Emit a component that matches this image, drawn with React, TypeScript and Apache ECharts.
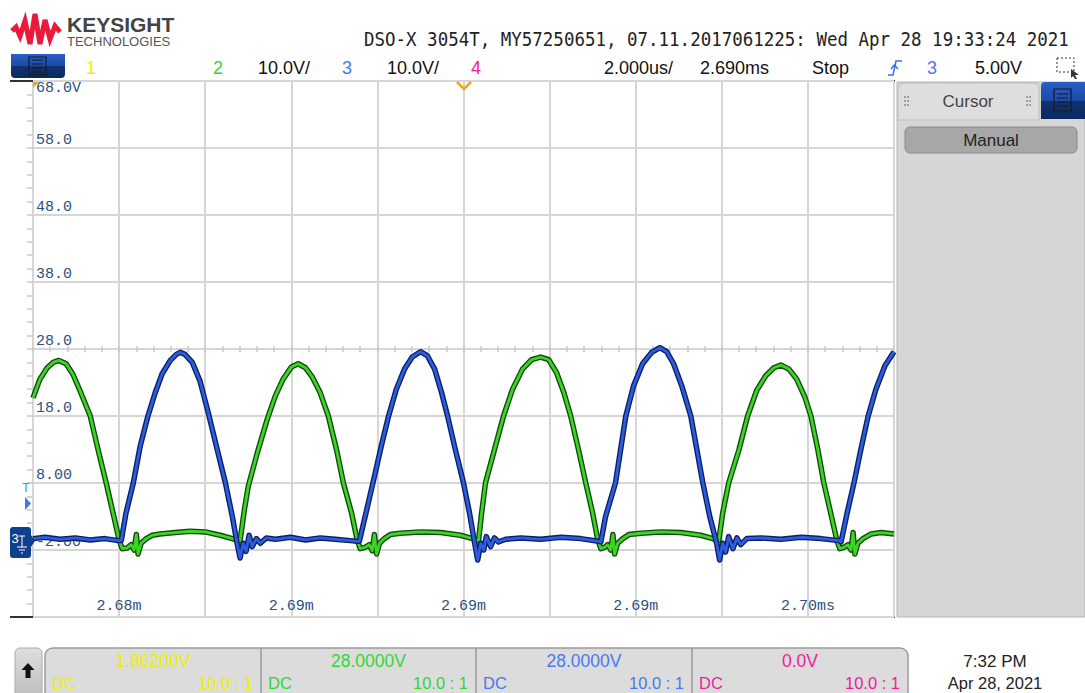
import React, { useEffect, useRef } from 'react';
import * as echarts from 'echarts';

// time axis: microseconds after 2.680 ms (2.000 us/div), volts: 10 V/div
const X_MIN = 0;
const X_MAX = 20;
const X_DIV = 2;
const Y_MIN = -12;
const Y_MAX = 68;
const Y_DIV = 10;

const xTickValues = [2, 6, 10, 14, 18];
const xTickLabels = ['2.68m', '2.69m', '2.69m', '2.69m', '2.70ms'];
const yTickValues = [68, 58, 48, 38, 28, 18, 8, -2];
const yTickLabels = ['68.0V', '58.0', '48.0', '38.0', '28.0', '18.0', '8.00', '-2.00'];

// channel 2 (green) [µs, V]
const ch2Trace: number[][] = [
  [0, 20.7], [0.16, 23.5], [0.33, 25.2], [0.47, 26.0], [0.6, 26.3], [0.77, 25.8], [0.93, 24.2], [1.09, 21.8], [1.33, 18.0], [1.51, 13.0], [1.7, 8.0], [1.86, 3.5], [2.0, -0.5],
  [2.07, -1.8], [2.19, -1.7], [2.28, -1.2], [2.35, -2.0], [2.4, 0.3], [2.44, -2.6], [2.51, -1.0], [2.63, -0.3], [2.77, 0.2], [2.95, 0.4], [3.3, 0.6], [3.65, 0.8], [4.0, 0.7], [4.35, 0.2], [4.63, -0.3], [4.77, -0.6],
  [4.81, -0.6], [4.91, 4.0], [5.0, 7.5], [5.21, 12.5], [5.44, 17.5], [5.63, 21.0], [5.81, 23.5], [6.0, 25.3], [6.16, 25.8], [6.33, 25.2], [6.49, 23.8], [6.67, 21.5], [6.86, 18.0], [7.05, 13.0], [7.21, 8.0], [7.4, 3.5], [7.53, -0.5],
  [7.6, -1.8], [7.72, -1.6], [7.81, -1.2], [7.88, -2.1], [7.93, 0.3], [7.98, -2.6], [8.05, -1.0], [8.16, -0.3], [8.3, 0.3], [8.53, 0.5], [9.0, 0.7], [9.47, 0.6], [9.93, 0.2], [10.21, -0.3], [10.33, -0.6],
  [10.35, -0.6], [10.42, 3.5], [10.51, 8.0], [10.72, 13.0], [10.93, 18.0], [11.14, 22.0], [11.37, 25.0], [11.58, 26.4], [11.79, 26.8], [11.98, 26.4], [12.16, 24.5], [12.33, 21.5], [12.49, 18.0], [12.67, 13.0], [12.84, 8.0], [13.0, 3.5], [13.12, -0.5],
  [13.19, -1.8], [13.28, -1.6], [13.35, -1.2], [13.42, -2.0], [13.47, 0.3], [13.51, -2.6], [13.58, -1.0], [13.7, -0.3], [13.84, 0.3], [14.12, 0.5], [14.58, 0.7], [15.05, 0.6], [15.51, 0.2], [15.79, -0.3], [15.91, -0.6],
  [15.93, -0.6], [16.02, 3.5], [16.16, 8.0], [16.4, 13.0], [16.6, 18.0], [16.81, 21.8], [17.02, 24.0], [17.21, 25.2], [17.37, 25.6], [17.56, 25.0], [17.74, 23.5], [17.93, 20.8], [18.07, 18.0], [18.23, 13.0], [18.37, 8.0], [18.53, 3.5], [18.67, -0.5],
  [18.74, -1.8], [18.84, -1.6], [18.93, -1.2], [19.0, -2.0], [19.05, 0.6], [19.09, -2.6], [19.16, -1.0], [19.28, -0.3], [19.47, 0.4], [19.7, 0.6], [20.0, 0.4],
];

// channel 3 (blue) [µs, V]
const ch3Trace: number[][] = [
  [0, -0.3], [0.28, -0.1], [0.63, -0.4], [0.98, -0.2], [1.33, -0.5], [1.67, -0.3], [1.98, -0.6],
  [2.05, -0.6], [2.16, 3.5], [2.33, 8.0], [2.49, 13.5], [2.67, 18.0], [2.84, 21.5], [3.0, 24.3], [3.19, 26.3], [3.33, 27.2], [3.42, 27.5], [3.53, 27.2], [3.7, 26.0], [3.88, 23.2], [4.07, 18.5], [4.26, 13.5], [4.47, 8.0], [4.63, 3.0], [4.74, -1.0],
  [4.81, -3.2], [4.88, -1.0], [4.95, -2.2], [5.02, 0.2], [5.09, -1.5], [5.19, -0.3], [5.28, -1.0], [5.42, -0.2], [5.63, -0.4], [5.98, -0.1], [6.33, -0.5], [6.67, -0.2], [7.02, -0.4], [7.37, -0.6], [7.53, -0.7],
  [7.58, -0.7], [7.77, 4.5], [7.95, 9.5], [8.09, 13.5], [8.26, 18.0], [8.44, 22.0], [8.63, 25.0], [8.81, 26.8], [9.0, 27.6], [9.16, 27.0], [9.33, 25.0], [9.49, 21.5], [9.63, 18.0], [9.81, 13.0], [10.0, 8.0], [10.14, 3.5], [10.26, -1.0],
  [10.33, -3.5], [10.4, -1.0], [10.47, -2.0], [10.53, 0.0], [10.63, -1.5], [10.72, -0.2], [10.81, -0.8], [10.98, -0.4], [11.33, -0.2], [11.79, -0.4], [12.26, -0.1], [12.72, -0.3], [13.14, -0.7],
  [13.19, -0.8], [13.3, 3.0], [13.53, 8.0], [13.65, 13.0], [13.77, 18.0], [13.95, 22.5], [14.16, 25.8], [14.37, 27.5], [14.56, 28.2], [14.72, 27.6], [14.88, 25.8], [15.07, 22.5], [15.28, 18.0], [15.42, 13.0], [15.56, 8.0], [15.72, 3.0], [15.88, -1.0],
  [15.95, -3.5], [16.02, -1.0], [16.09, -2.3], [16.16, 0.0], [16.26, -1.8], [16.35, -0.2], [16.44, -1.2], [16.58, -0.3], [16.91, -0.2], [17.37, -0.4], [17.84, -0.1], [18.3, -0.3], [18.72, -0.6],
  [18.77, -0.8], [18.91, 3.5], [19.07, 8.0], [19.23, 13.0], [19.4, 18.0], [19.58, 22.0], [19.79, 25.5], [20.0, 27.6],
];

const channelNames = ['1', '2', '3', '4'];
const channelColors = ['#eeee00', '#33d633', '#4a78ee', '#f0209c'];
const channelScales = ['', '10.0V/', '10.0V/', ''];
const channelOffsets = ['1.86200V', '28.0000V', '28.0000V', '0.0V'];
const channelCoupling = ['DC', 'DC', 'DC', 'DC'];
const channelProbe = ['10.0 : 1', '10.0 : 1', '10.0 : 1', '10.0 : 1'];

const headerTitle = 'DSO-X 3054T, MY57250651, 07.11.2017061225: Wed Apr 28 19:33:24 2021';
const timeScale = '2.000us/';
const timeDelay = '2.690ms';
const runState = 'Stop';
const trigSource = '3';
const trigLevel = '5.00V';
const clockTime = '7:32 PM';
const clockDate = 'Apr 28, 2021';

const SANS = '"Liberation Sans", Arial, sans-serif';
const MONO = '"Liberation Mono", "DejaVu Sans Mono", monospace';
const AXIS_BLUE = '#2c4f80';

function findLabel(values: number[], v: number) {
  return values.findIndex((t) => Math.abs(t - v) < 1e-6);
}

function txt(text: string, x: number, y: number, fill: string, fontSize: number, align = 'left', extra: any = {}) {
  return {
    type: 'text',
    x,
    y,
    z: 50,
    style: { text, fill, fontSize, fontFamily: SANS, align, verticalAlign: 'middle', ...extra },
  };
}

function buildOption() {
  const G = echarts.graphic;
  const blueGrad = () =>
    new G.LinearGradient(0, 0, 0, 1, [
      { offset: 0, color: '#2a5fc4' },
      { offset: 0.5, color: '#1c4aa8' },
      { offset: 0.5, color: '#0f3272' },
      { offset: 1, color: '#0b2960' },
    ]);
  const grayBtn = new G.LinearGradient(0, 0, 0, 1, [
    { offset: 0, color: '#dedede' },
    { offset: 1, color: '#bcbcbc' },
  ]);

  const elements: any[] = [];

  // Keysight logo
  elements.push({
    type: 'polyline',
    z: 50,
    shape: { points: [[12, 31], [16, 27], [20, 36], [25, 21], [30, 44], [35, 14], [40, 44], [45, 20], [50, 39], [55, 26], [60, 32]] },
    style: { stroke: '#ea1a3a', lineWidth: 5, fill: null, lineJoin: 'miter' },
  });
  elements.push(txt('KEYSIGHT', 67, 24, '#444444', 21, 'left', { fontWeight: 'bold' }));
  elements.push(txt('TECHNOLOGIES', 67, 41, '#555555', 13));

  // Title
  elements.push({
    type: 'text',
    x: 364,
    y: 39,
    scaleX: 0.92,
    z: 50,
    style: { text: headerTitle, fill: '#222', fontSize: 19, fontFamily: '"DejaVu Sans Mono", monospace', align: 'left', verticalAlign: 'middle' },
  });

  // Row 2: menu button
  elements.push({ type: 'rect', z: 50, shape: { x: 11, y: 54, width: 54, height: 24, r: [0, 0, 4, 4] }, style: { fill: blueGrad() } });
  elements.push({ type: 'rect', z: 51, shape: { x: 29, y: 57, width: 17, height: 18 }, style: { fill: null, stroke: '#1a1a1a', lineWidth: 1.2 } });
  [61, 65, 69, 73].forEach((yy) => {
    elements.push({ type: 'line', z: 51, shape: { x1: 32, y1: yy - 1, x2: 43, y2: yy - 1 }, style: { stroke: '#1a1a1a', lineWidth: 1 } });
  });

  const rowY = 68;
  const chanX = [91, 218, 347, 476];
  channelNames.forEach((n, i) => {
    elements.push(txt(n, chanX[i], rowY, channelColors[i], 18, 'center'));
    if (channelScales[i]) elements.push(txt(channelScales[i], chanX[i] + 40, rowY, '#111', 18));
  });
  elements.push(txt(timeScale, 604, rowY, '#111', 18));
  elements.push(txt(timeDelay, 700, rowY, '#111', 18));
  elements.push(txt(runState, 812, rowY, '#111', 18));
  elements.push({ type: 'polyline', z: 50, shape: { points: [[888, 75], [893, 75], [896, 61], [902, 61]] }, style: { stroke: '#3a6fe0', lineWidth: 1.5, fill: null } });
  elements.push({ type: 'polyline', z: 50, shape: { points: [[891, 69], [894.5, 65], [898, 69]] }, style: { stroke: '#3a6fe0', lineWidth: 1.5, fill: null } });
  elements.push(txt(trigSource, 932, rowY, '#4a78ee', 18, 'center'));
  elements.push(txt(trigLevel, 975, rowY, '#111', 18));
  elements.push({ type: 'rect', z: 50, shape: { x: 1057, y: 58, width: 17, height: 14 }, style: { fill: null, stroke: '#333', lineWidth: 1, lineDash: [2, 2] } });
  elements.push({ type: 'polygon', z: 50, shape: { points: [[1071, 69], [1079, 75], [1075, 75], [1077, 79], [1075, 79], [1073, 76], [1071, 78]] }, style: { fill: '#333' } });

  // Frame extensions on the left
  elements.push({ type: 'line', z: 50, shape: { x1: 10, y1: 81, x2: 33, y2: 81 }, style: { stroke: '#333', lineWidth: 2 } });
  elements.push({ type: 'line', z: 50, shape: { x1: 10, y1: 617, x2: 33, y2: 617 }, style: { stroke: '#333', lineWidth: 2 } });

  // Time reference markers
  elements.push({ type: 'polyline', z: 60, shape: { points: [[457, 82], [464, 89], [471, 82]] }, style: { stroke: '#f2a21c', lineWidth: 2.5, fill: null } });
  elements.push({ type: 'polygon', z: 60, shape: { points: [[33, 82], [39, 82], [33, 88]] }, style: { fill: '#f2a21c' } });

  // Trigger level marker
  elements.push({ type: 'text', x: 26, y: 488, z: 60, style: { text: 'T', fill: '#4a8ae6', fontSize: 12, fontFamily: SANS, align: 'center', verticalAlign: 'middle' } });
  elements.push({ type: 'polygon', z: 60, shape: { points: [[25, 497], [31, 503.5], [25, 510]] }, style: { fill: '#3c7de0' } });

  // Channel 3 ground marker
  elements.push({ type: 'rect', z: 60, shape: { x: 10, y: 527, width: 21, height: 31, r: 3 }, style: { fill: '#0f3f8f' } });
  elements.push({ type: 'polygon', z: 60, shape: { points: [[31, 535], [35, 541], [31, 547]] }, style: { fill: '#0f3f8f' } });
  elements.push({ type: 'text', x: 15, y: 538, z: 61, style: { text: '3', fill: '#ffffff', fontSize: 13, fontFamily: SANS, align: 'center', verticalAlign: 'middle' } });
  elements.push({ type: 'polyline', z: 61, shape: { points: [[19, 536], [25, 536]] }, style: { stroke: '#fff', lineWidth: 1 } });
  elements.push({ type: 'polyline', z: 61, shape: { points: [[22, 536], [22, 547]] }, style: { stroke: '#fff', lineWidth: 1 } });
  elements.push({ type: 'polyline', z: 61, shape: { points: [[17, 547], [27, 547]] }, style: { stroke: '#fff', lineWidth: 1 } });
  elements.push({ type: 'polyline', z: 61, shape: { points: [[19, 550], [25, 550]] }, style: { stroke: '#fff', lineWidth: 1 } });
  elements.push({ type: 'polyline', z: 61, shape: { points: [[21, 553], [23, 553]] }, style: { stroke: '#fff', lineWidth: 1 } });

  // Right panel
  elements.push({ type: 'rect', z: 40, shape: { x: 897, y: 82, width: 188, height: 535 }, style: { fill: '#d6d6d6', stroke: '#b5b5b5', lineWidth: 1 } });
  elements.push({ type: 'rect', z: 41, shape: { x: 898, y: 83, width: 141, height: 37, r: [6, 6, 0, 0] }, style: { fill: '#dedede', stroke: '#bdbdbd', lineWidth: 1 } });
  elements.push(txt('Cursor', 968, 101, '#444', 17, 'center'));
  [[905, 97], [908, 97], [905, 101], [908, 101], [905, 105], [908, 105], [1027, 97], [1030, 97], [1027, 101], [1030, 101], [1027, 105], [1030, 105]].forEach((p) => {
    elements.push({ type: 'circle', z: 51, shape: { cx: p[0], cy: p[1], r: 0.8 }, style: { fill: '#777' } });
  });
  elements.push({ type: 'rect', z: 42, shape: { x: 1041, y: 82, width: 44, height: 37, r: [4, 0, 0, 0] }, style: { fill: blueGrad() } });
  elements.push({ type: 'rect', z: 43, shape: { x: 1054, y: 89, width: 17, height: 22 }, style: { fill: null, stroke: '#1a1a1a', lineWidth: 1.2 } });
  [94, 98, 102, 106].forEach((yy) => {
    elements.push({ type: 'line', z: 43, shape: { x1: 1057, y1: yy, x2: 1068, y2: yy }, style: { stroke: '#1a1a1a', lineWidth: 1 } });
  });
  elements.push({ type: 'rect', z: 42, shape: { x: 905, y: 127, width: 172, height: 26, r: 5 }, style: { fill: '#a7a7a7', stroke: '#8a8a8a', lineWidth: 1 } });
  elements.push(txt('Manual', 991, 140, '#222', 17, 'center'));

  // Bottom bar
  elements.push({ type: 'rect', z: 40, shape: { x: 15, y: 648, width: 27, height: 52, r: 5 }, style: { fill: grayBtn, stroke: '#aaaaaa', lineWidth: 1 } });
  elements.push({ type: 'polygon', z: 41, shape: { points: [[28, 663], [21.5, 670], [25.5, 670], [25.5, 678], [30.5, 678], [30.5, 670], [34.5, 670]] }, style: { fill: '#111' } });
  elements.push({ type: 'rect', z: 40, shape: { x: 45, y: 648, width: 863, height: 60, r: [8, 8, 0, 0] }, style: { fill: '#dcdcdc', stroke: '#9a9a9a', lineWidth: 1.5 } });
  const secLeft = [45, 261, 476, 692];
  const secRight = [261, 476, 692, 908];
  channelNames.forEach((_, i) => {
    if (i > 0) elements.push({ type: 'line', z: 41, shape: { x1: secLeft[i], y1: 648, x2: secLeft[i], y2: 693 }, style: { stroke: '#9a9a9a', lineWidth: 1.5 } });
    const cx = (secLeft[i] + secRight[i]) / 2;
    elements.push(txt(channelOffsets[i], cx, 661, channelColors[i], 17.5, 'center'));
    elements.push(txt(channelCoupling[i], secLeft[i] + 7, 683, channelColors[i], 16.5));
    elements.push(txt(channelProbe[i], secRight[i] - 8, 683, channelColors[i], 16.5, 'right'));
  });
  elements.push(txt(clockTime, 995, 661, '#222', 17, 'center'));
  elements.push(txt(clockDate, 995, 683, '#222', 16.5, 'center'));

  const lineSeries = (name: string, data: number[][], dark: string, bright: string, z: number) => [
    {
      name: name + '-edge', type: 'line', data, showSymbol: false, silent: true, z, animation: false,
      lineStyle: { color: dark, width: 5.5, join: 'round' },
    },
    {
      name, type: 'line', data, showSymbol: false, silent: true, z: z + 1, animation: false,
      lineStyle: { color: bright, width: 2.8, join: 'round' },
    },
  ];

  return {
    animation: false,
    backgroundColor: '#ffffff',
    grid: [
      { left: 33, top: 81, width: 861, height: 536, show: true, backgroundColor: '#fff', borderColor: '#2a2a2a', borderWidth: 2, containLabel: false },
      { left: 33, top: 81, width: 861, height: 271, show: false, containLabel: false },
      { left: 33, top: 81, width: 434, height: 536, show: false, containLabel: false },
    ],
    xAxis: [
      {
        type: 'value', gridIndex: 0, min: X_MIN, max: X_MAX, interval: X_DIV,
        axisLine: { show: false }, axisTick: { show: false },
        splitLine: { show: true, lineStyle: { color: '#d6d6d6', width: 2 } },
        axisLabel: {
          inside: true, margin: 3, color: AXIS_BLUE, fontSize: 15, fontFamily: MONO,
          showMinLabel: true, showMaxLabel: true,
          formatter: (v: number) => {
            const i = findLabel(xTickValues, v);
            return i < 0 ? '' : xTickLabels[i];
          },
        },
      },
      {
        type: 'value', gridIndex: 1, min: X_MIN, max: X_MAX, interval: X_DIV / 5,
        axisLine: { show: false }, splitLine: { show: false }, axisLabel: { show: false },
        axisTick: { show: true, inside: true, length: 6, lineStyle: { color: '#c9c9c9', width: 1.5 } },
      },
      {
        type: 'value', gridIndex: 2, min: X_MIN, max: X_MAX / 2, show: false,
      },
    ],
    yAxis: [
      {
        type: 'value', gridIndex: 0, min: Y_MIN, max: Y_MAX, interval: Y_DIV,
        axisLine: { show: false }, axisTick: { show: false },
        splitLine: { show: true, lineStyle: { color: '#d6d6d6', width: 2 } },
        axisLabel: {
          inside: true, margin: 3, color: AXIS_BLUE, fontSize: 15, fontFamily: MONO,
          verticalAlign: 'middle', lineHeight: 15, align: 'left',
          showMinLabel: true, showMaxLabel: true,
          formatter: (v: number) => {
            const i = findLabel(yTickValues, v);
            if (i < 0) return '';
            return i === 0 ? ' \n' + yTickLabels[i] : yTickLabels[i] + '\n ';
          },
        },
      },
      {
        type: 'value', gridIndex: 1, min: 28, max: Y_MAX, show: false,
      },
      {
        type: 'value', gridIndex: 2, position: 'right', min: Y_MIN, max: Y_MAX, interval: Y_DIV / 5,
        axisLine: { show: false }, splitLine: { show: false }, axisLabel: { show: false },
        axisTick: { show: true, inside: true, length: 6, lineStyle: { color: '#c9c9c9', width: 1.5 } },
      },
    ],
    series: [
      ...lineSeries('Channel 2', ch2Trace, '#0f4a0c', '#3fd326', 3),
      ...lineSeries('Channel 3', ch3Trace, '#0b1f63', '#2d5ddc', 5),
    ],
    graphic: { elements },
  };
}

export default function App() {
  const ref = useRef<HTMLDivElement>(null);
  useEffect(() => {
    if (!ref.current) return;
    const chart = echarts.init(ref.current, null, { renderer: 'svg' });
    chart.setOption(buildOption() as any);
    return () => chart.dispose();
  }, []);
  return (
    <div
      ref={ref}
      style={{ position: 'fixed', left: 0, top: 0, width: 1085, height: 693, background: '#ffffff' }}
    />
  );
}
